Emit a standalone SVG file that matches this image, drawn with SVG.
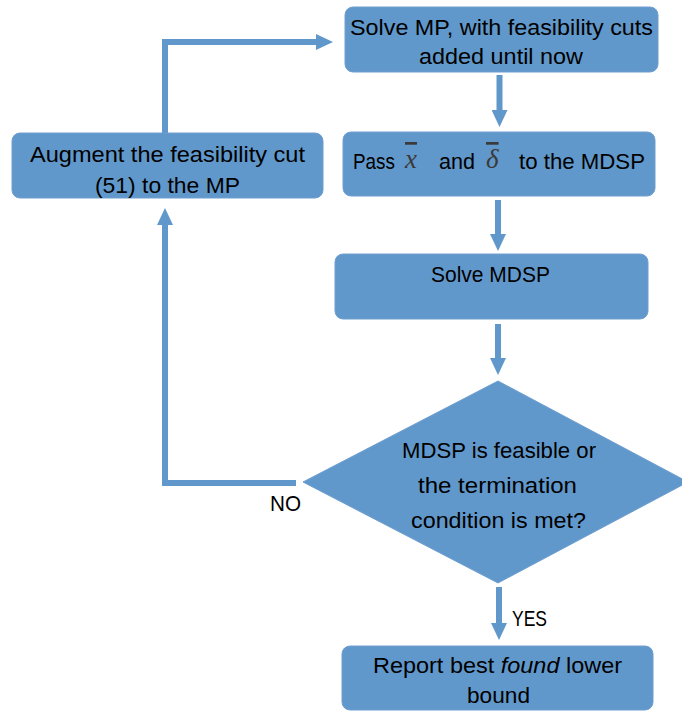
<svg xmlns="http://www.w3.org/2000/svg" width="682" height="711" viewBox="0 0 682 711">
<defs>
<style>
.box{fill:#6198CB;stroke:#6f9fd0;stroke-width:1}
.t{font-family:"Liberation Sans","Noto Sans",sans-serif;font-size:22px;fill:#000;text-anchor:middle}
.tl{font-family:"Liberation Sans","Noto Sans",sans-serif;font-size:22px;fill:#000}
.m{font-family:"Liberation Serif","DejaVu Serif",serif;font-style:italic;font-size:27px;fill:#3a3a3a;text-decoration:overline}
.c{fill:none;stroke:#6198CB;stroke-width:6;stroke-linejoin:miter}
</style>
<marker id="ah" markerUnits="userSpaceOnUse" markerWidth="17" markerHeight="16" refX="0" refY="8" orient="auto" viewBox="0 0 17 16">
<path d="M0,0 L17,8 L0,16 z" fill="#6198CB"/>
</marker>
</defs>
<g id="connectors">
<path class="c" d="M165,133 V42 H316" marker-end="url(#ah)"/>
<path class="c" d="M499.5,75 V110" marker-end="url(#ah)"/>
<path class="c" d="M498,200 V234" marker-end="url(#ah)"/>
<path class="c" d="M498,324 V358" marker-end="url(#ah)"/>
<path class="c" d="M296,483 H165 V225" marker-end="url(#ah)"/>
<path class="c" d="M499,587 V623" marker-end="url(#ah)"/>
</g>
<g id="node-solve-mp">
<rect class="box" x="345" y="7" width="313" height="65" rx="8"/>
<text class="t" x="501.5" y="35" textLength="303" lengthAdjust="spacingAndGlyphs">Solve MP, with feasibility cuts</text>
<text class="t" x="501" y="64" textLength="164" lengthAdjust="spacingAndGlyphs">added until now</text>
</g>
<g id="node-pass">
<rect class="box" x="343" y="132" width="312" height="64" rx="8"/>
<text class="tl" x="353" y="169" textLength="42" lengthAdjust="spacingAndGlyphs">Pass</text>
<text class="m" x="405" y="168">x</text>
<text class="tl" x="439" y="169" textLength="36" lengthAdjust="spacingAndGlyphs">and</text>
<text class="m" x="486" y="168">δ</text>
<text class="tl" x="519" y="169" textLength="126" lengthAdjust="spacingAndGlyphs">to the MDSP</text>
</g>
<g id="node-augment">
<rect class="box" x="12" y="133" width="311" height="65" rx="8"/>
<text class="t" x="167.5" y="162" textLength="275" lengthAdjust="spacingAndGlyphs">Augment the feasibility cut</text>
<text class="t" x="167.5" y="193" textLength="145" lengthAdjust="spacingAndGlyphs">(51) to the MP</text>
</g>
<g id="node-solve-mdsp">
<rect class="box" x="335" y="254" width="313" height="65" rx="8"/>
<text class="t" x="490.5" y="282" textLength="119" lengthAdjust="spacingAndGlyphs">Solve MDSP</text>
</g>
<g id="node-decision">
<polygon class="box" points="498,381 688,482 498,583 303,482"/>
<text class="t" x="499" y="458" textLength="194" lengthAdjust="spacingAndGlyphs">MDSP is feasible or</text>
<text class="t" x="497.5" y="493" textLength="159" lengthAdjust="spacingAndGlyphs">the termination</text>
<text class="t" x="498.5" y="528" textLength="175" lengthAdjust="spacingAndGlyphs">condition is met?</text>
</g>
<g id="labels">
<text class="tl" x="270" y="511" textLength="31" lengthAdjust="spacingAndGlyphs">NO</text>
<text class="tl" x="512" y="626" textLength="35" lengthAdjust="spacingAndGlyphs">YES</text>
</g>
<g id="node-report">
<rect class="box" x="342" y="646" width="311" height="64" rx="8"/>
<text class="tl" x="373" y="673" textLength="249" lengthAdjust="spacingAndGlyphs">Report best <tspan font-style="italic">found</tspan> lower</text>
<text class="t" x="498.5" y="703" textLength="63" lengthAdjust="spacingAndGlyphs">bound</text>
</g>
</svg>
